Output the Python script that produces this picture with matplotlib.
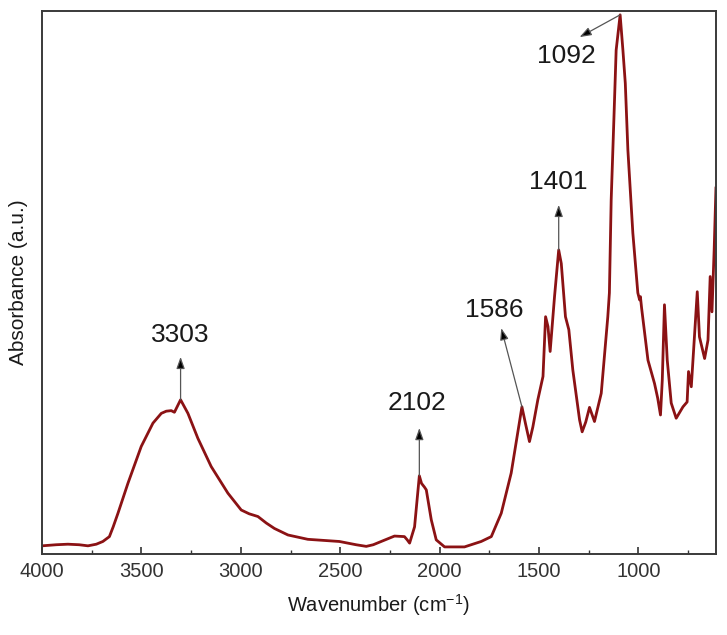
import matplotlib
matplotlib.use("Agg")
import matplotlib.pyplot as plt
from matplotlib.ticker import MultipleLocator

plt.rcParams['font.family'] = ['Liberation Sans', 'DejaVu Sans']
plt.rcParams['mathtext.fontset'] = 'custom'
plt.rcParams['mathtext.rm'] = 'Liberation Sans'
plt.rcParams['mathtext.it'] = 'Liberation Sans:italic'

# FTIR spectrum (wavenumber cm-1, absorbance a.u.)
wavenumber = [4000, 3929, 3870, 3813, 3769, 3727, 3694, 3661, 3642, 3618,
              3568, 3501, 3442, 3400, 3375, 3350, 3334, 3303, 3266, 3216,
              3149, 3065, 2998, 2958, 2914, 2872, 2831, 2763, 2663, 2504,
              2420, 2369, 2334, 2294, 2227, 2177, 2163, 2151, 2126, 2102,
              2091, 2076, 2067, 2042, 2017, 1975, 1875, 1791, 1740, 1690,
              1640, 1586, 1568, 1548, 1531, 1506, 1480, 1467, 1455, 1444,
              1422, 1401, 1388, 1367, 1350, 1330, 1296, 1283, 1265, 1246,
              1221, 1187, 1154, 1146, 1137, 1123, 1112, 1092, 1078, 1066,
              1053, 1028, 1003, 994, 990, 984, 952, 919, 903, 889,
              880, 869, 855, 835, 810, 776, 755, 748, 734, 704,
              693, 667, 650, 639, 630, 619, 610]
absorbance = [0.015, 0.017, 0.018, 0.017, 0.015, 0.018, 0.023, 0.032, 0.050, 0.075,
              0.130, 0.198, 0.241, 0.259, 0.263, 0.264, 0.261, 0.284, 0.259, 0.213,
              0.161, 0.112, 0.081, 0.074, 0.069, 0.057, 0.047, 0.035, 0.027, 0.023,
              0.017, 0.014, 0.017, 0.023, 0.033, 0.032, 0.026, 0.020, 0.050, 0.144,
              0.130, 0.123, 0.118, 0.063, 0.026, 0.013, 0.013, 0.023, 0.032, 0.075,
              0.149, 0.271, 0.240, 0.207, 0.234, 0.284, 0.327, 0.437, 0.419, 0.373,
              0.474, 0.560, 0.535, 0.437, 0.413, 0.339, 0.247, 0.225, 0.243, 0.270,
              0.244, 0.296, 0.437, 0.481, 0.652, 0.805, 0.928, 0.993, 0.928, 0.867,
              0.744, 0.591, 0.481, 0.468, 0.474, 0.453, 0.357, 0.314, 0.287, 0.256,
              0.320, 0.459, 0.357, 0.278, 0.250, 0.271, 0.280, 0.336, 0.308, 0.483,
              0.400, 0.360, 0.394, 0.511, 0.446, 0.560, 0.674]

# peak labels: peak position, label text position, arrow head position
peak_wn = [3303, 2102, 1586, 1401, 1092]
peak_abs = [0.284, 0.144, 0.271, 0.560, 0.993]
label_wn = [3303, 2115, 1725, 1405, 1360]
label_abs = [0.403, 0.278, 0.449, 0.686, 0.917]
head_wn = [3303, 2102, 1690, 1401, 1296]
head_abs = [0.363, 0.232, 0.416, 0.643, 0.952]

fig = plt.figure(figsize=(7.27, 6.35), dpi=100)
ax = fig.add_axes([0.0578, 0.1276, 0.927, 0.855])

ax.plot(wavenumber, absorbance, color='#8b1214', lw=2.0)

for i in range(len(peak_wn)):
    ax.annotate("", xy=(head_wn[i], head_abs[i]), xytext=(peak_wn[i], peak_abs[i]),
                arrowprops=dict(arrowstyle='-|>,head_length=0.7,head_width=0.25',
                                color='#777777', fc='black', ec='#555555', lw=0.9,
                                shrinkA=0, shrinkB=0))
    ax.text(label_wn[i], label_abs[i], str(peak_wn[i]), ha='center', va='center',
            fontsize=19, color='#1a1a1a')

ax.set_xlim(4000, 610)
ax.set_ylim(0, 1)
ax.xaxis.set_major_locator(MultipleLocator(500))
ax.xaxis.set_minor_locator(MultipleLocator(250))
ax.tick_params(axis='x', which='major', direction='in', length=5, width=1.2,
               labelsize=14.5, pad=6, colors='#333333')
ax.tick_params(axis='x', which='minor', direction='in', length=3, width=1.0,
               colors='#333333')
ax.tick_params(axis='y', left=False, labelleft=False)
for sp in ax.spines.values():
    sp.set_linewidth(1.4)
    sp.set_color('#3a3a3a')

ax.set_xlabel('Wavenumber (cm$^{-1}$)', fontsize=14.5, color='#1a1a1a', labelpad=8)
ax.set_ylabel('Absorbance (a.u.)', fontsize=15, color='#1a1a1a', labelpad=10)

fig.savefig('out.png', dpi=100)
